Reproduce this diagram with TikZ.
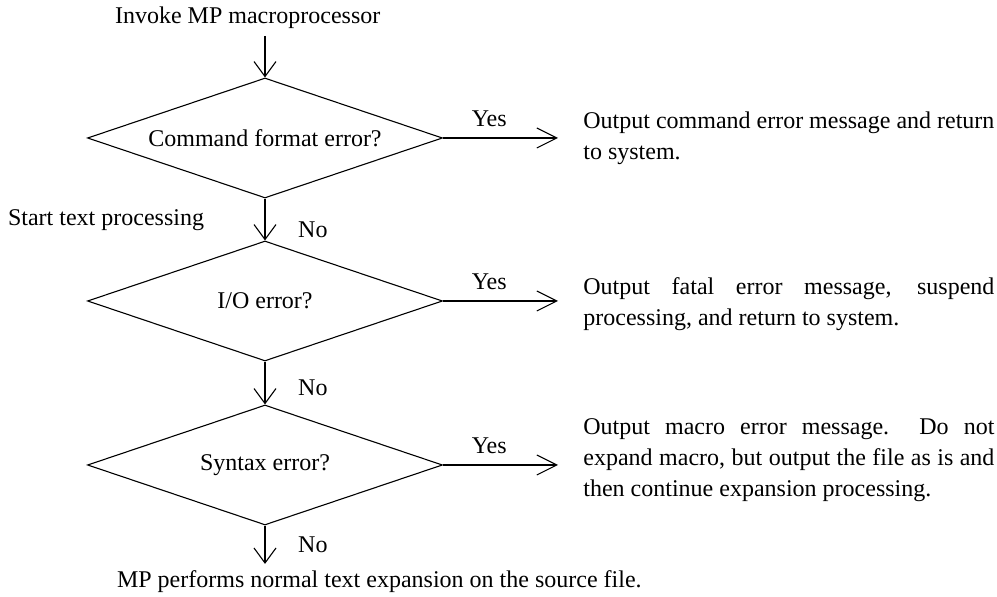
\documentclass[tikz,border=0pt]{standalone}
\usepackage{fontspec}
\setmainfont{Liberation Serif}
\usetikzlibrary{
	positioning		% relative placement
	, arrows.meta		% open barb tips
	, shapes.geometric	% diamond
}

\begin{document}
\begin{tikzpicture}[
				x=0.5pt, y=-0.5pt,
				font=\fontsize{12}{15.5}\selectfont,
				decision/.style={
					diamond,
					draw=black, line width=0.55pt,
					minimum width=177.5pt,
					minimum height=60pt,
					aspect=2.96,
					inner sep=0pt
				},
				message/.style={
					anchor=west,
					text width=205.5pt,
					align=justify,
					inner sep=0pt
				},
				arrow/.style={
					-{Straight Barb[length=7.5pt, width=11pt]},
					line width=0.55pt
				},
				yesarrow/.style={
					arrow,
					-{Straight Barb[length=10pt, width=10pt]}
				}]

			\useasboundingbox (0,0) rectangle (997,597);

			%%% The three checks, one under the other
			\foreach [count=\i] \cond/\y in {Command format error?/138, {I/O error?}/301, Syntax error?/465} {
				\node [decision] (check\i) at (265,\y) {\raisebox{-3pt}{\cond}};
			};

			%%% What happens on Yes
			\node [message] (msg1) at (583,138) {Output command error message and return\linebreak to system.};
			\node [message] (msg2) at (583,304) {Output fatal error message, suspend\linebreak processing, and return to system.};
			\node [message] (msg3) at (583,460) {Output macro error message.\ \ Do not\linebreak expand macro, but output the file as is and\linebreak then continue expansion processing.};

			%%% Start and end texts
			\node [anchor=west] (invoke) at (108,18) {Invoke MP macroprocessor};
			\node [anchor=west] (starttext) at (1,220) {Start text processing};
			\node [anchor=west] (expand) at (110,582) {MP performs normal text expansion on the source file.};

			\draw [arrow] (check1.north |- invoke.south) -- (check1.north);
			\draw [arrow] (check1.south) -- node[pos=0.75, right=13pt] {No} (check2.north);
			\draw [arrow] (check2.south) -- node[pos=0.6, right=13pt] {No} (check3.north);
			\draw [arrow] (check3.south) -- node[pos=0.5, right=13pt] {No} (check3.south |- expand.north);

			\foreach \i in {1,2,3} {
				\draw [yesarrow, shorten >=12.5pt] (check\i.east) -- node[pos=0.33, above=2pt] {Yes} (check\i.east -| msg\i.west);
			};

		\end{tikzpicture}
\end{document}
